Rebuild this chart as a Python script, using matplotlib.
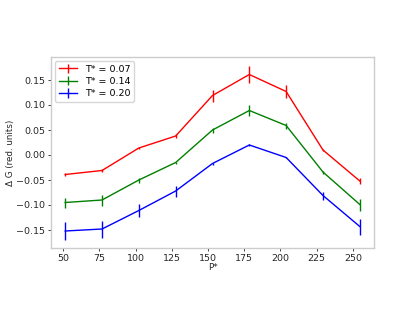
import matplotlib
matplotlib.use("Agg")
import matplotlib.pyplot as plt

p = [51.5, 76.9, 102.3, 127.7, 153.1, 178.5, 203.9, 229.3, 254.7]

g_007 = [-0.039, -0.031, 0.014, 0.038, 0.119, 0.161, 0.127, 0.010, -0.052]
e_007 = [0.003, 0.003, 0.002, 0.004, 0.012, 0.018, 0.013, 0.002, 0.006]

g_014 = [-0.095, -0.090, -0.050, -0.015, 0.050, 0.089, 0.059, -0.034, -0.099]
e_014 = [0.010, 0.011, 0.005, 0.002, 0.005, 0.011, 0.006, 0.003, 0.012]

g_020 = [-0.152, -0.148, -0.111, -0.072, -0.017, 0.020, -0.005, -0.081, -0.143]
e_020 = [0.018, 0.017, 0.013, 0.011, 0.002, 0.002, 0.001, 0.008, 0.016]

labels = ["T* = 0.07", "T* = 0.14", "T* = 0.20"]

fs = 6.8
fig = plt.figure(figsize=(4.15, 3.12), dpi=100)
ax = fig.add_axes([51 / 415, 1 - 248 / 312, 323 / 415, 191 / 312])

ax.errorbar(p, g_007, yerr=e_007, color="red", lw=1, label=labels[0])
ax.errorbar(p, g_014, yerr=e_014, color="green", lw=1, label=labels[1])
ax.errorbar(p, g_020, yerr=e_020, color="blue", lw=1, label=labels[2])

ax.set_xlim(41.7, 264.5)
ax.set_ylim(-0.186, 0.196)
ax.set_xticks([50, 75, 100, 125, 150, 175, 200, 225, 250])
ax.set_yticks([-0.15, -0.10, -0.05, 0.00, 0.05, 0.10, 0.15])
ax.tick_params(length=2, width=0.6, labelsize=fs, pad=2, colors="#262626")
for s in ax.spines.values():
    s.set_color("#cccccc")
    s.set_linewidth(1)

ax.set_xlabel("P*", fontsize=6.3, labelpad=0, color="#262626")
ax.set_ylabel("Δ G (red. units)", fontsize=6.3, labelpad=1, color="#262626")
ax.legend(loc="upper left", fontsize=6.8, frameon=True, handlelength=2.0,
          borderaxespad=0.4, labelspacing=0.35)

fig.savefig("out.png", dpi=100)
